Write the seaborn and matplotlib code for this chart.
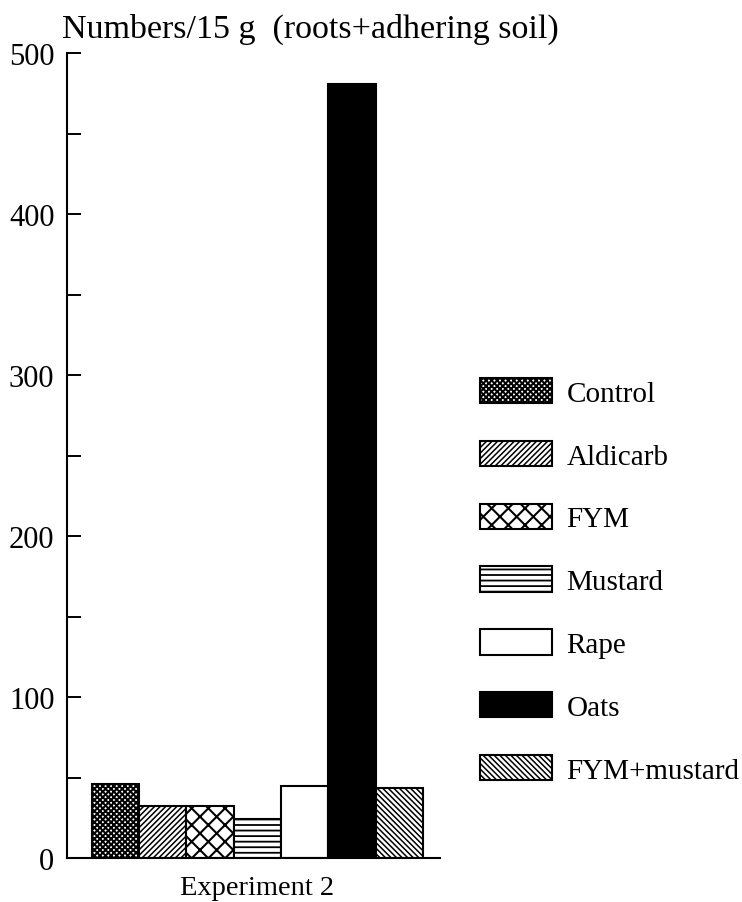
import matplotlib
matplotlib.use("Agg")
import matplotlib.pyplot as plt
from matplotlib.ticker import MultipleLocator
import pandas as pd
import seaborn as sns

# Nematode counts per treatment (numbers per 15 g of roots + adhering soil)
treatments = ["Control", "Aldicarb", "FYM", "Mustard", "Rape", "Oats", "FYM+mustard"]
counts = [46, 32, 32.5, 24, 44.5, 481, 43.5]
experiment = "Experiment 2"
y_ticks = [0, 100, 200, 300, 400, 500]

face_colors = ["white", "white", "white", "white", "white", "black", "white"]
hatches = ["xxxxxx", "//////", "xx", "---", "", "", "\\\\\\\\\\\\"]
hatch_widths = [1.45, 1.1, 1.5, 1.3, 1.0, 1.0, 1.1]

sns.set_theme(style="white")
plt.rcParams["font.family"] = ["Liberation Serif", "DejaVu Serif"]
plt.rcParams["text.color"] = "black"
plt.rcParams["hatch.linewidth"] = 1.2
plt.rcParams["hatch.color"] = "black"

df = pd.DataFrame({
    "experiment": [experiment] * len(treatments),
    "treatment": treatments,
    "count": counts,
})

fig = plt.figure(figsize=(7.42, 9.03), dpi=100)
ax = fig.add_axes([67 / 742, 44 / 903, 373 / 742, 805 / 903])

sns.barplot(
    data=df, x="experiment", y="count", hue="treatment",
    hue_order=treatments, palette=dict(zip(treatments, face_colors)),
    saturation=1, width=0.8, edgecolor="black", linewidth=1.5,
    legend=False, ax=ax,
)

for container, hatch, hw in zip(ax.containers, hatches, hatch_widths):
    for bar in container:
        bar.set_hatch(hatch)
        if hasattr(bar, "set_hatch_linewidth"):
            bar.set_hatch_linewidth(hw)

ax.set_xlim(-0.46, 0.441)
ax.set_ylim(0, 500)
ax.set_yticks(y_ticks)
ax.yaxis.set_minor_locator(MultipleLocator(50))
ax.tick_params(axis="y", which="both", direction="in", left=True,
               length=10, width=1.4, labelsize=22, pad=9, colors="black")
ax.tick_params(axis="x", length=0, labelsize=20.5, pad=12, colors="black")
ax.set_xlabel("")
ax.set_ylabel("")
ax.grid(False)

sns.despine(ax=ax)
for side in ("left", "bottom"):
    ax.spines[side].set_color("black")
    ax.spines[side].set_linewidth(1.5)

leg = ax.legend(
    handles=[c.patches[0] for c in ax.containers], labels=treatments,
    loc="upper left", bbox_to_anchor=(480 / 742, 1 - 379 / 903),
    bbox_transform=fig.transFigure, frameon=False, fontsize=21,
    handlelength=2.47, handleheight=0.96, labelspacing=1.17,
    handletextpad=0.5, borderpad=0, borderaxespad=0, labelcolor="black",
)
for handle, hw in zip(leg.legend_handles, hatch_widths):
    if hasattr(handle, "set_hatch_linewidth"):
        handle.set_hatch_linewidth(hw)

fig.text(62 / 742, 1 - 29 / 903, "Numbers/15 g  (roots+adhering soil)",
         ha="left", va="center", fontsize=24.5, color="black")

fig.savefig("out.png", dpi=100)
